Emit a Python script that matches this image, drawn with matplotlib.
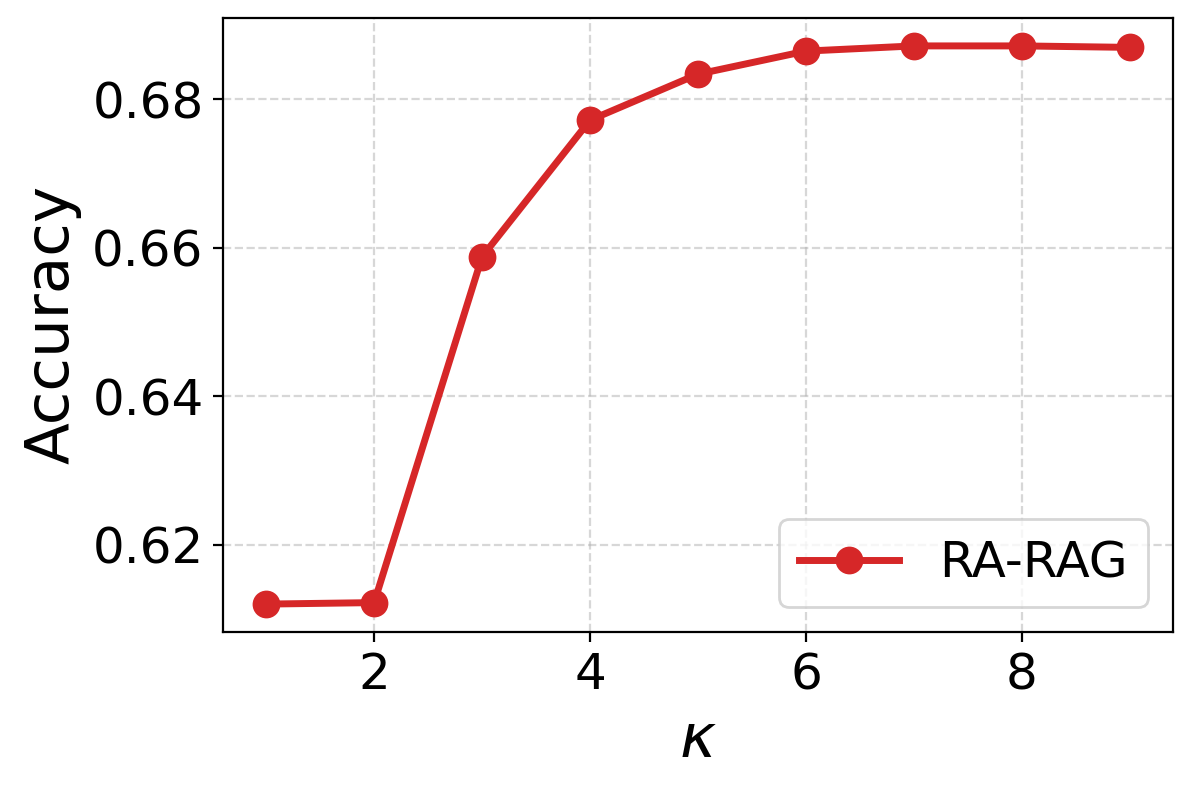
import matplotlib
matplotlib.use("Agg")
import matplotlib.pyplot as plt

k_values = [1, 2, 3, 4, 5, 6, 7, 8, 9]
accuracy = [0.6120, 0.6122, 0.6588, 0.6772, 0.6834, 0.6865, 0.6872, 0.6872, 0.6870]
series_label = "RA-RAG"

fig = plt.figure(figsize=(5.98, 3.96), dpi=200)
ax = fig.add_axes([223/1196, 1 - 632/792, (1173-223)/1196, (632-18)/792])
ax.plot(k_values, accuracy, marker='o', color='#d62728', linewidth=2.5, markersize=9, label=series_label)
ax.grid(True, linestyle='--', color='#b0b0b0', alpha=0.5, linewidth=0.8)
ax.set_xlabel(r'$\kappa$', fontsize=22)
ax.set_ylabel('Accuracy', fontsize=22)
ax.tick_params(labelsize=18)
ax.set_yticks([0.62, 0.64, 0.66, 0.68])
ax.legend(fontsize=18, loc='lower right')
fig.savefig('out.png', dpi=200)
